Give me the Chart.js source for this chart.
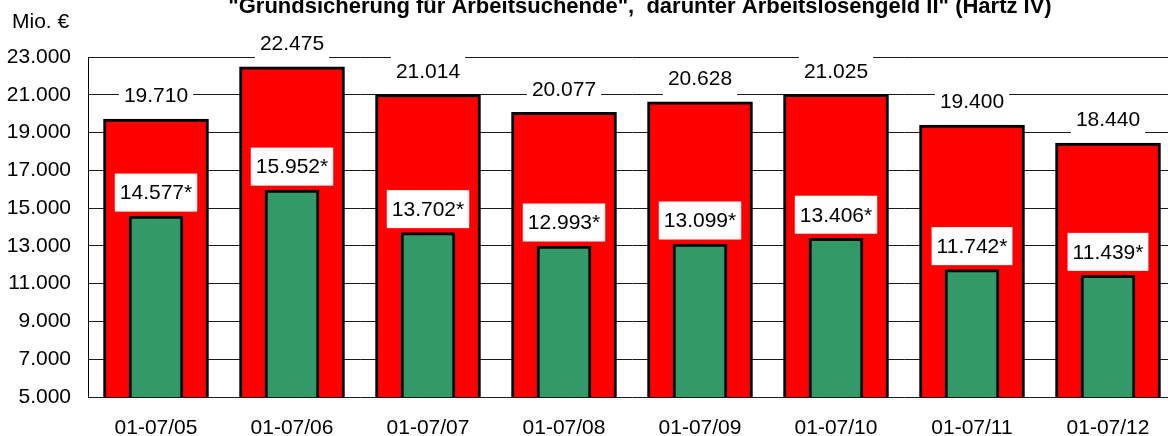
<!DOCTYPE html>
<html>
<head>
<meta charset="utf-8">
<script src="https://cdn.jsdelivr.net/npm/chart.js@4"></script>
<style>
    html, body { margin: 0; padding: 0; background: #fff; overflow: hidden; }
    #wrapper { width: 1168px; height: 436px; overflow: hidden; }
</style>
</head>
<body>
<div id="wrapper"><canvas id="graph" width="1180" height="436"></canvas></div>
<script>
const categories = ["01-07/05", "01-07/06", "01-07/07", "01-07/08", "01-07/09", "01-07/10", "01-07/11", "01-07/12"];
const total_values = [19710, 22475, 21014, 20077, 20628, 21025, 19400, 18440];
const alg2_values = [14577, 15952, 13702, 12993, 13099, 13406, 11742, 11439];
const y_ticks = [5000, 7000, 9000, 11000, 13000, 15000, 17000, 19000, 21000, 23000];

const title_text = "\"Grundsicherung für Arbeitsuchende\",  darunter Arbeitslosengeld II\" (Hartz IV)";
const unit_text = "Mio. €";
const font_family = "'Liberation Sans', Arial, sans-serif";

function numfmt(num) {
    return String(num).replace(/\B(?=(\d{3})+(?!\d))/g, ".");
}

/* value boxes above the bars, plus title and unit */
const labelPlugin = {
    id: "labels",
    afterDatasetsDraw(chart) {
        const ctx = chart.ctx;
        ctx.save();
        ctx.font = "21px " + font_family;
        ctx.textAlign = "center";
        ctx.textBaseline = "middle";
        chart.data.datasets.forEach((ds, i) => {
            const meta = chart.getDatasetMeta(i);
            meta.data.forEach((bar, j) => {
                const txt = numfmt(ds.data[j]) + (ds.star ? "*" : "");
                const w = ctx.measureText(txt).width + 10;
                const cy = bar.y - 23.5;
                ctx.fillStyle = "#fff";
                ctx.fillRect(bar.x - w / 2, cy - 19, w, 38);
                ctx.fillStyle = "#000";
                ctx.fillText(txt, bar.x, cy + 1);
            });
        });
        ctx.restore();
    },
    afterDraw(chart) {
        const ctx = chart.ctx;
        ctx.save();
        ctx.fillStyle = "#000";
        ctx.textBaseline = "alphabetic";
        ctx.font = "bold 22px " + font_family;
        ctx.textAlign = "center";
        ctx.fillText(title_text, 640, 13);
        ctx.font = "21px " + font_family;
        ctx.textAlign = "left";
        ctx.fillText(unit_text, 12, 28);
        ctx.restore();
    },
};

const graph = new Chart(document.getElementById("graph"), {
    type: "bar",
    data: {
        labels: categories,
        datasets: [
            {
                label: "Arbeitslosengeld II",
                data: alg2_values,
                star: true,
                backgroundColor: "#339966",
                borderColor: "#000",
                borderWidth: 3,
                borderSkipped: false,
                barThickness: 54,
                grouped: false,
                order: 1,
            },
            {
                label: "Grundsicherung",
                data: total_values,
                backgroundColor: "#ff0000",
                borderColor: "#000",
                borderWidth: 3,
                borderSkipped: false,
                barThickness: 105,
                grouped: false,
                order: 2,
            },
        ],
    },
    options: {
        responsive: false,
        animation: false,
        layout: { padding: { top: 57, right: 4, left: 0, bottom: 0 } },
        plugins: {
            legend: { display: false },
            tooltip: { enabled: false },
            title: { display: false },
        },
        scales: {
            x: {
                grid: { display: false, drawTicks: false },
                border: { display: false },
                ticks: {
                    color: "#000",
                    padding: 19,
                    font: { family: font_family, size: 21 },
                },
                afterFit(scale) { scale.height = 39; },
            },
            y: {
                min: 5000,
                max: 23000,
                afterBuildTicks(scale) {
                    scale.ticks = y_ticks.map((v) => ({ value: v }));
                },
                grid: { color: "#1a1a1a", lineWidth: 1, drawTicks: false },
                border: { display: true, color: "#000", width: 1 },
                ticks: {
                    color: "#000",
                    padding: 17,
                    font: { family: font_family, size: 21 },
                    callback: (v) => numfmt(v),
                },
                afterFit(scale) { scale.width = 88; },
            },
        },
    },
    plugins: [labelPlugin],
});
</script>
</body>
</html>
